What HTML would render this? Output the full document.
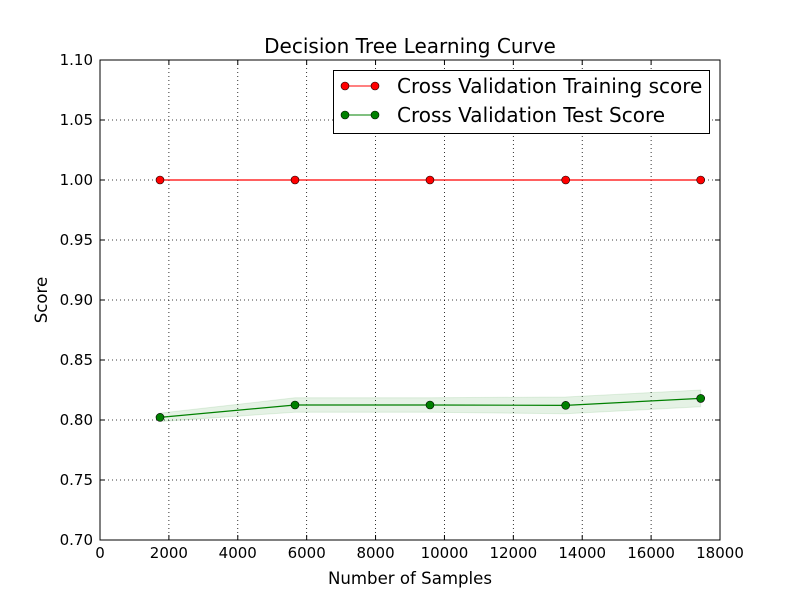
<!DOCTYPE html>
<html><head><meta charset="utf-8"><style>
body{margin:0;background:#fff}
svg{display:block;font-family:"DejaVu Sans","Liberation Sans",sans-serif}
</style></head><body>
<svg id="chart" width="800" height="600">
<rect width="800" height="600" fill="#fff"/>
<g id="grid"></g>
<g id="series"></g>
<rect x="100" y="60" width="620" height="480" fill="none" stroke="#000" stroke-width="1"/>
<g id="ticks"></g>
<text x="410" y="53" font-size="20" text-anchor="middle">Decision Tree Learning Curve</text>
<text x="410" y="584" font-size="16.6" text-anchor="middle">Number of Samples</text>
<text x="47" y="300" font-size="16.6" text-anchor="middle" transform="rotate(-90 47 300)">Score</text>
<g>
<rect x="333.5" y="70.5" width="376" height="63" fill="#fff" stroke="#000"/>
<g>
<line x1="345" y1="86" x2="375" y2="86" stroke="red"/>
<circle cx="345" cy="86" r="4" fill="red" stroke="#000" stroke-width="0.6"/>
<circle cx="375" cy="86" r="4" fill="red" stroke="#000" stroke-width="0.6"/>
<text x="397" y="93" font-size="20">Cross Validation Training score</text>
</g>
<g>
<line x1="345" y1="115" x2="375" y2="115" stroke="green"/>
<circle cx="345" cy="115" r="4" fill="green" stroke="#000" stroke-width="0.6"/>
<circle cx="375" cy="115" r="4" fill="green" stroke="#000" stroke-width="0.6"/>
<text x="397" y="122" font-size="20">Cross Validation Test Score</text>
</g>
</g>
</svg>
<script>
const samples=[1742,5661,9580,13520,17440];
const trainScores=[1.0,1.0,1.0,1.0,1.0];
const testScores=[0.8022,0.8125,0.8125,0.8122,0.818];
const testStd=[0.0035,0.006,0.006,0.007,0.007];
const xTicks=[0,2000,4000,6000,8000,10000,12000,14000,16000,18000];
const yTicks=[0.70,0.75,0.80,0.85,0.90,0.95,1.00,1.05,1.10];
const NS="http://www.w3.org/2000/svg";
const X=v=>100+v/18000*620, Y=v=>540-(v-0.70)/0.40*480;
function mk(t,a,p){const e=document.createElementNS(NS,t);for(const k in a)e.setAttribute(k,a[k]);p.appendChild(e);return e;}
const grid=document.getElementById('grid'),ticks=document.getElementById('ticks'),ser=document.getElementById('series');
xTicks.forEach(t=>{const x=X(t);
 const g=mk('line',{x1:x,x2:x,y1:60,y2:540,stroke:'#000','stroke-dasharray':'1,3','stroke-width':0.8},grid);
 
 
 mk('line',{x1:x,x2:x,y1:540,y2:535,stroke:'#000'},ticks);mk('line',{x1:x,x2:x,y1:60,y2:65,stroke:'#000'},ticks);
 const l=mk('text',{x:x,y:558,'font-size':15,'text-anchor':'middle'},ticks);l.textContent=t;
 
 });
yTicks.forEach(t=>{const y=Y(t);
 const g=mk('line',{x1:100,x2:720,y1:y,y2:y,stroke:'#000','stroke-dasharray':'1,3','stroke-width':0.8},grid);
 
 
 mk('line',{x1:100,x2:105,y1:y,y2:y,stroke:'#000'},ticks);mk('line',{x1:715,x2:720,y1:y,y2:y,stroke:'#000'},ticks);
 const l=mk('text',{x:93,y:y+5,'font-size':15,'text-anchor':'end'},ticks);l.textContent=t.toFixed(2);
 
 });
let up=samples.map((s,i)=>X(s)+','+Y(testScores[i]+testStd[i]));
let dn=samples.map((s,i)=>X(s)+','+Y(testScores[i]-testStd[i])).reverse();
const band=mk('polygon',{points:up.concat(dn).join(' '),fill:'green','fill-opacity':0.1,stroke:'green','stroke-opacity':0.1},ser);


[[trainScores,'red','training'],[testScores,'green','test']].forEach(([d,c,n])=>{
 const pl=mk('polyline',{points:samples.map((s,i)=>X(s)+','+Y(d[i])).join(' '),fill:'none',stroke:c,'stroke-width':1.2},ser);
 
 
 samples.forEach((s,i)=>{const p=mk('circle',{cx:X(s),cy:Y(d[i]),r:4,fill:c,stroke:'#000','stroke-width':0.6},ser);
 
 });
});
</script>
</body></html>
